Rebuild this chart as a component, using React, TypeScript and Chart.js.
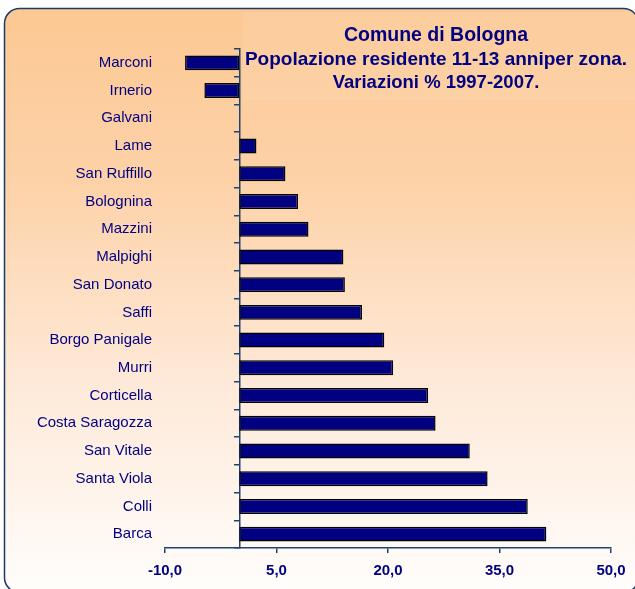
import React, { useEffect, useRef } from 'react';
import { Chart, registerables } from 'chart.js';

Chart.register(...registerables);

const zones = [
  'Marconi', 'Irnerio', 'Galvani', 'Lame', 'San Ruffillo', 'Bolognina', 'Mazzini',
  'Malpighi', 'San Donato', 'Saffi', 'Borgo Panigale', 'Murri', 'Corticella',
  'Costa Saragozza', 'San Vitale', 'Santa Viola', 'Colli', 'Barca',
];
const variations = [
  -7.3, -4.7, 0, 2.3, 6.2, 7.9, 9.3, 14.0, 14.2, 16.5, 19.5, 20.7, 25.4, 26.4, 31.0, 33.4, 38.8, 41.3,
];
const xTicks = [-10, 5, 20, 35, 50];
const titleLines = [
  'Comune di Bologna',
  'Popolazione residente 11-13 anniper zona.',
  'Variazioni % 1997-2007.',
];

const NAVY = '#000080';
const AXIS = '#1F4470';

const backgroundPlugin = {
  id: 'bgPanel',
  beforeDraw(chart: any) {
    const ctx = chart.ctx;
    ctx.save();
    const g = ctx.createLinearGradient(0, 8, 0, 590);
    g.addColorStop(0, '#FCC893');
    g.addColorStop(0.3, '#FDD2A8');
    g.addColorStop(0.64, '#FEE9D8');
    g.addColorStop(1, '#FFFDFB');
    ctx.beginPath();
    ctx.roundRect(4.5, 8.5, 634, 584, 15);
    ctx.fillStyle = g;
    ctx.fill();
    ctx.lineWidth = 1.5;
    ctx.strokeStyle = '#1B3A66';
    ctx.stroke();
    ctx.fillStyle = 'rgba(255,240,220,0.12)';
    ctx.fillRect(243, 12, 392, 88);
    ctx.restore();
  },
  afterDraw(chart: any) {
    const ctx = chart.ctx;
    ctx.save();
    ctx.fillStyle = NAVY;
    ctx.textAlign = 'center';
    ctx.textBaseline = 'alphabetic';
    const cx = 436;
    ctx.font = 'bold 19.5px Arial, "Liberation Sans", sans-serif';
    ctx.fillText(titleLines[0], cx, 41);
    ctx.font = 'bold 19px Arial, "Liberation Sans", sans-serif';
    ctx.fillText(titleLines[1], cx, 65);
    ctx.font = 'bold 18.5px Arial, "Liberation Sans", sans-serif';
    ctx.fillText(titleLines[2], cx, 88);
    ctx.restore();
  },
};

export default function App() {
  const ref = useRef<HTMLCanvasElement | null>(null);
  useEffect(() => {
    if (!ref.current) return;
    const chart = new Chart(ref.current, {
      type: 'bar',
      data: {
        labels: zones,
        datasets: [
          {
            data: variations,
            backgroundColor: NAVY,
            borderColor: '#000000',
            borderWidth: 1.5,
            borderSkipped: false,
            barPercentage: 0.54,
            categoryPercentage: 1,
          },
        ],
      },
      options: {
        indexAxis: 'y',
        animation: false,
        responsive: false,
        devicePixelRatio: 1,
        layout: { padding: { top: 49, right: 24, left: 0, bottom: 0 } },
        plugins: {
          legend: { display: false },
          tooltip: { enabled: false },
          title: { display: false },
        },
        scales: {
          x: {
            type: 'linear',
            min: -10,
            max: 50,
            afterBuildTicks: (s: any) => {
              s.ticks = xTicks.map((v) => ({ value: v }));
            },
            afterFit: (s: any) => {
              s.height = 41;
            },
            grid: {
              drawOnChartArea: false,
              drawTicks: true,
              tickLength: 5,
              color: AXIS,
              lineWidth: 1.5,
            },
            border: { display: true, color: AXIS, width: 1.5 },
            ticks: {
              color: NAVY,
              padding: 9,
              font: { family: 'Arial, "Liberation Sans", sans-serif', size: 15, weight: 'bold' },
              callback: (v: any) => Number(v).toFixed(1).replace('.', ','),
            },
          },
          y: {
            type: 'category',
            position: 'left',
            afterFit: (s: any) => {
              s.width = 165;
            },
            grid: { display: false, drawTicks: false },
            border: { display: false },
            ticks: {
              color: NAVY,
              padding: 13,
              autoSkip: false,
              font: { family: 'Arial, "Liberation Sans", sans-serif', size: 15 },
            },
          },
          y2: {
            type: 'category',
            axis: 'y',
            position: { x: 0 },
            offset: true,
            z: 1,
            grid: {
              offset: true,
              drawOnChartArea: false,
              drawTicks: true,
              tickLength: 5,
              color: AXIS,
              lineWidth: 1.5,
            },
            border: { display: true, color: AXIS, width: 1.5 },
            ticks: { display: false },
          },
        },
      } as any,
      plugins: [backgroundPlugin],
    });
    return () => chart.destroy();
  }, []);

  return (
    <div style={{ position: 'absolute', left: 0, top: 0, width: 635, height: 589 }}>
      <canvas ref={ref} width={635} height={589} style={{ display: 'block' }} />
    </div>
  );
}
